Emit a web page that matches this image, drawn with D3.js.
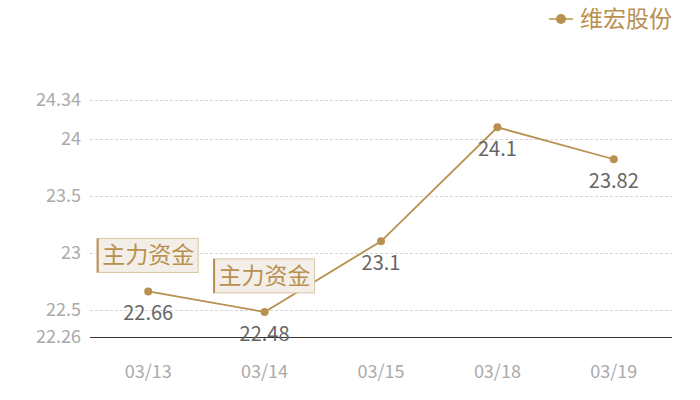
<!DOCTYPE html>
<meta charset="utf-8">
<html>
<head>
  <style>
    body { margin: 0; background: #fff; }
    svg { display: block; font-family: "Noto Sans CJK SC", "Noto Sans", sans-serif; }
  </style>
</head>
<body>
<svg id="chart" width="700" height="400"></svg>
<script src="https://d3js.org/d3.v7.min.js"></script>
<script>

// data
const dates = ["03/13", "03/14", "03/15", "03/18", "03/19"];
const prices = [22.66, 22.48, 23.1, 24.1, 23.82];
const yTicks = [22.26, 22.5, 23, 23.5, 24, 24.34];
const flowDates = ["03/13", "03/14"];
const flowLabel = "主力资金";
const seriesName = "维宏股份";

const gold = "#b8904f";

const svg = d3.select("#chart");

const x = d3.scalePoint()
  .domain(dates)
  .range([90, 672])
  .padding(0.5);

const y = d3.scaleLinear()
  .domain([22.26, 24.34])
  .range([337, 100]);

// grid lines
svg.append("g")
  .selectAll("line")
  .data(yTicks.filter(d => d !== 22.26))
  .join("line")
  .attr("x1", 90).attr("x2", 672)
  .attr("y1", d => Math.round(y(d)) + 0.5).attr("y2", d => Math.round(y(d)) + 0.5)
  .attr("stroke", "#d6d6d6")
  .attr("stroke-dasharray", "3,2");

// y labels
svg.append("g")
  .selectAll("text")
  .data(yTicks)
  .join("text")
  .attr("x", 81)
  .attr("y", d => y(d))
  .attr("dy", "0.35em")
  .attr("text-anchor", "end")
  .attr("font-size", 18)
  .attr("fill", "#aaaaaa")
  .text(d => d);

// x axis line
svg.append("line")
  .attr("x1", 90).attr("x2", 672)
  .attr("y1", y(22.26) + 0.5).attr("y2", y(22.26) + 0.5)
  .attr("stroke", "#333")
  .attr("stroke-width", 1);

// x labels
svg.append("g")
  .selectAll("text")
  .data(dates)
  .join("text")
  .attr("x", d => x(d))
  .attr("y", 372)
  .attr("dy", "0.35em")
  .attr("text-anchor", "middle")
  .attr("font-size", 18)
  .attr("fill", "#aaaaaa")
  .text(d => d);

const pts = dates.map((d, i) => ({date: d, value: prices[i]}));

// line
svg.append("path")
  .datum(pts)
  .attr("fill", "none")
  .attr("stroke", gold)
  .attr("stroke-width", 1.8)
  .attr("d", d3.line().x(d => x(d.date)).y(d => y(d.value)));

svg.append("g")
  .selectAll("circle")
  .data(pts)
  .join("circle")
  .attr("cx", d => x(d.date))
  .attr("cy", d => y(d.value))
  .attr("r", 4)
  .attr("fill", gold);

// value labels
svg.append("g")
  .selectAll("text")
  .data(pts)
  .join("text")
  .attr("x", d => x(d.date))
  .attr("y", d => y(d.value) + 22)
  .attr("dy", "0.35em")
  .attr("text-anchor", "middle")
  .attr("font-size", 20)
  .attr("fill", "#666666")
  .text(d => d.value);

// 主力资金 tags
const tags = svg.append("g")
  .selectAll("g")
  .data(pts.filter(d => flowDates.includes(d.date)))
  .join("g")
  .attr("transform", d => `translate(${x(d.date)},${y(d.value) - 36})`);

tags.append("rect")
  .attr("x", -51).attr("y", -17)
  .attr("width", 101).attr("height", 34)
  .attr("fill", "#f3efe8")
  .attr("stroke", "#d9c4a2")
  .attr("stroke-width", 1);

tags.append("line")
  .attr("x1", -50.5).attr("x2", -50.5)
  .attr("y1", -17).attr("y2", 17)
  .attr("stroke", gold)
  .attr("stroke-width", 2);

tags.append("text")
  .attr("x", 0)
  .attr("y", 0)
  .attr("dy", "0.35em")
  .attr("text-anchor", "middle")
  .attr("font-size", 23)
  .attr("fill", gold)
  .text(flowLabel);

// legend
const legend = svg.append("g").attr("transform", "translate(549,19)");
legend.append("line")
  .attr("x1", 0).attr("x2", 24)
  .attr("stroke", gold).attr("stroke-width", 1.5);
legend.append("circle")
  .attr("cx", 12).attr("r", 5)
  .attr("fill", gold);
legend.append("text")
  .attr("x", 31)
  .attr("dy", "0.35em")
  .attr("font-size", 23)
  .attr("fill", gold)
  .text(seriesName);

</script>
</body>
</html>
